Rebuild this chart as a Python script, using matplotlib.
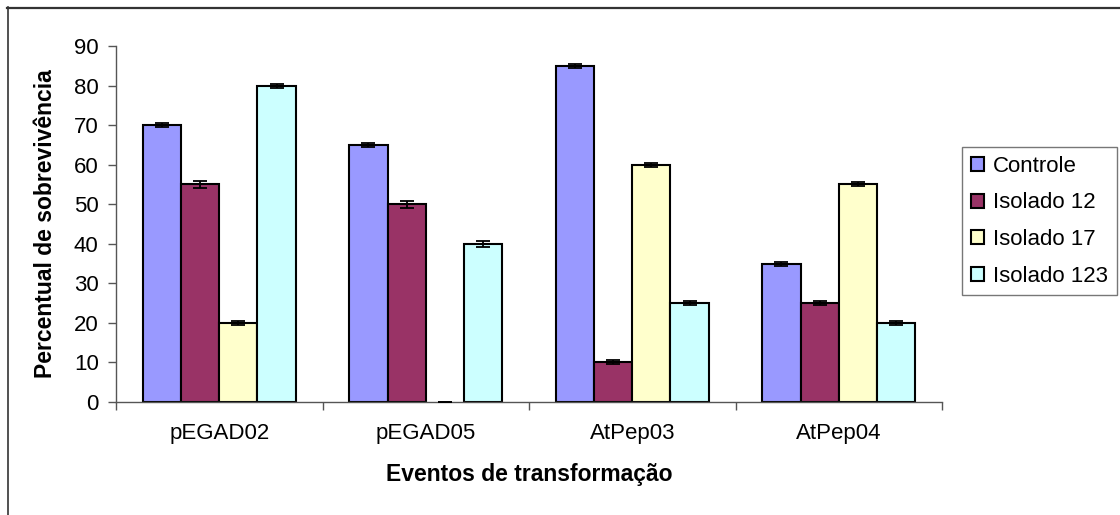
import matplotlib
matplotlib.use("Agg")
import matplotlib.pyplot as plt
from matplotlib.lines import Line2D
import numpy as np

plt.rcParams['font.family'] = ['Liberation Sans', 'DejaVu Sans']

categories = ["pEGAD02", "pEGAD05", "AtPep03", "AtPep04"]
series_names = ["Controle", "Isolado 12", "Isolado 17", "Isolado 123"]
controle = [70, 65, 85, 35]
isolado12 = [55, 50, 10, 25]
isolado17 = [20, 0, 60, 55]
isolado123 = [80, 40, 25, 20]
err_controle = [0.5, 0.5, 0.5, 0.5]
err_isolado12 = [0.9, 0.9, 0.5, 0.5]
err_isolado17 = [0.5, 0.0, 0.5, 0.5]
err_isolado123 = [0.5, 0.8, 0.5, 0.5]
colors = ["#9999FF", "#993366", "#FFFFCC", "#CCFFFF"]
yticks = list(range(0, 91, 10))

values = [controle, isolado12, isolado17, isolado123]
errors = [err_controle, err_isolado12, err_isolado17, err_isolado123]

W, H = 1120, 515
fig = plt.figure(figsize=(W / 100, H / 100), dpi=100)
ax = fig.add_axes([116 / W, 1 - 402 / H, (942 - 116) / W, (402 - 46) / H])

x = np.arange(len(categories))
bw = 0.185
for i, (name, vals, errs, col) in enumerate(zip(series_names, values, errors, colors)):
    pos = x + (i - 1.5) * bw
    lws = [1.5 if v > 0 else 0 for v in vals]
    ax.bar(pos, vals, width=bw, color=col, edgecolor="black", linewidth=lws,
           label=name, zorder=2)
    ax.errorbar(pos, vals, yerr=errs, fmt="none", ecolor="black", elinewidth=1.3,
                capsize=4.7, capthick=1.3, zorder=3)

ax.set_xlim(-0.5, len(categories) - 0.5)
ax.set_ylim(0, 90)
ax.set_yticks(yticks)
ax.set_yticklabels([str(t) for t in yticks])
ax.set_xticks(np.arange(len(categories) + 1) - 0.5)
ax.set_xticklabels([])
ax.set_xticks(x, minor=True)
ax.set_xticklabels(categories, minor=True)
ax.tick_params(axis="x", which="minor", length=0, pad=15, labelsize=16)
ax.tick_params(axis="x", which="major", length=6, width=1, color="#555555", direction="out")
ax.tick_params(axis="y", length=5.5, width=1, color="#555555", direction="out", pad=7, labelsize=16)

for s in ["top", "right"]:
    ax.spines[s].set_visible(False)
for s in ["left", "bottom"]:
    ax.spines[s].set_color("#555555")
    ax.spines[s].set_linewidth(1)

ax.set_ylabel("Percentual de sobrevivência", fontsize=16.5, fontweight="bold")
ax.yaxis.set_label_coords((57 - 116) / (942 - 116), 0.5)
ax.set_xlabel("Eventos de transformação", fontsize=16.5, fontweight="bold")
ax.xaxis.set_label_coords(0.5, (402 - 463) / (402 - 46))

leg = fig.legend(loc="upper left", bbox_to_anchor=(962 / W, 1 - 147 / H),
                 borderaxespad=0, fontsize=16, frameon=True, fancybox=False,
                 edgecolor="#555555", handlelength=0.6, handleheight=0.6,
                 handletextpad=0.4, labelspacing=0.7, borderpad=0.4)
leg.get_frame().set_linewidth(1)

# figure border (top and left visible)
fig.add_artist(Line2D([7 / W, 1], [1 - 7.5 / H, 1 - 7.5 / H], transform=fig.transFigure,
                      color="#333333", linewidth=1.6))
fig.add_artist(Line2D([7.5 / W, 7.5 / W], [0, 1 - 7 / H], transform=fig.transFigure,
                      color="#333333", linewidth=1.2))

fig.savefig("out.png", dpi=100)
